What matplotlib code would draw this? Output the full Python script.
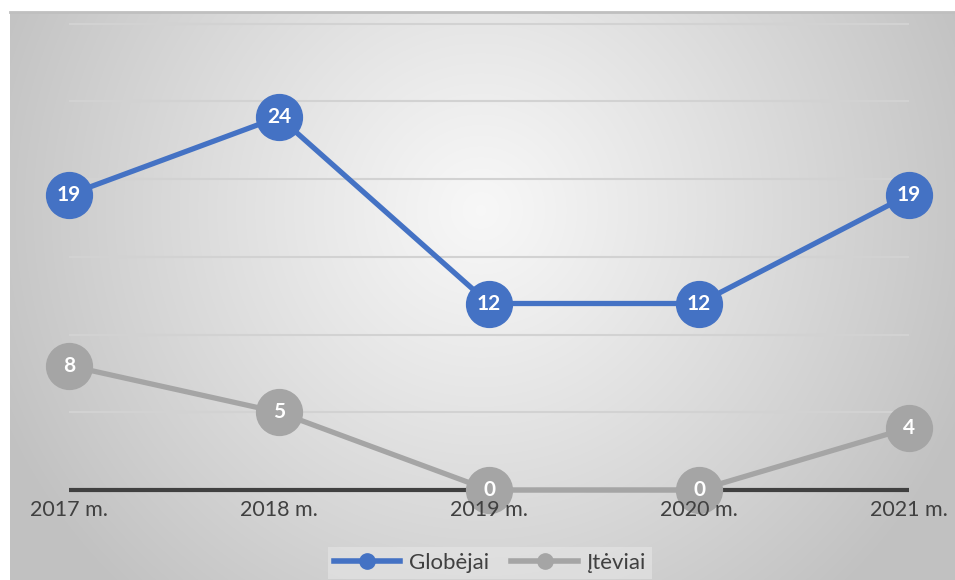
import matplotlib
matplotlib.use("Agg")
import matplotlib.pyplot as plt
import numpy as np
from matplotlib.lines import Line2D

# data
years = ["2017 m.", "2018 m.", "2019 m.", "2020 m.", "2021 m."]
globejai = [19, 24, 12, 12, 19]
teviai = [8, 5, 0, 0, 4]
series_names = ["Globėjai", "Įtėviai"]
grid_values = [5, 10, 15, 20, 25, 30]

BLUE = "#4472c4"
GRAY = "#a5a5a5"
TEXT = "#404040"

plt.rcParams["font.family"] = ["Lato", "DejaVu Sans"]

W, H = 955, 580
fig = plt.figure(figsize=(W / 100, H / 100), dpi=100)

# radial gradient background of the chart frame
x0, y0 = 10, 12
bg = fig.add_axes([x0 / W, 0, (W - x0) / W, (H - y0) / H])
yy, xx = np.mgrid[0:H - y0, 0:W - x0]
cx, cy = 480 - x0, 210 - y0
r = np.sqrt((xx - cx) ** 2 + (yy - cy) ** 2) / 520.0
r = np.clip(r, 0, 1)
shade = 0.97 - 0.21 * r ** 1.1
img = np.dstack([shade, shade, shade])
bg.imshow(img, aspect="auto", interpolation="bilinear")
bg.set_axis_off()
fig.add_artist(Line2D([x0 / W, 1], [(H - y0) / H] * 2, color="#bfbfbf", lw=2))

# main plot axes, same frame
ax = fig.add_axes([x0 / W, 0, (W - x0) / W, (H - y0) / H])
ax.patch.set_alpha(0)
px_x = 210.0
px_y = (490 - 117) / 24.0
ax.set_xlim((x0 - 69) / px_x, (W - 69) / px_x)
ax.set_ylim(-(H - 490) / px_y, (490 - y0) / px_y)
ax.set_axis_off()

xs = np.arange(len(years))
ax.hlines(grid_values, 0, len(years) - 1, color="#d2d2d2", lw=1.5, zorder=1)
ax.hlines(0, 0, len(years) - 1, color=TEXT, lw=3, zorder=2)

for vals, col in [(globejai, BLUE), (teviai, GRAY)]:
    ax.plot(xs, vals, color=col, lw=3.8, marker="o", ms=33, mec=col, mfc=col,
            zorder=3, solid_capstyle="round")
    for x, v in zip(xs, vals):
        ax.text(x, v, str(v), color="white", fontsize=15, fontweight="bold",
                ha="center", va="center", zorder=4)

for x, lab in zip(xs, years):
    ax.text(x, -1.3, lab, color=TEXT, fontsize=15.5, ha="center", va="center", zorder=5)

handles = [Line2D([0], [0], color=BLUE, lw=4, marker="o", ms=11),
           Line2D([0], [0], color=GRAY, lw=4, marker="o", ms=11)]
leg = fig.legend(handles, series_names, loc="center", bbox_to_anchor=(490 / W, 17 / H),
                 ncol=2, frameon=True, fontsize=16, handlelength=3.0, columnspacing=1.0,
                 handletextpad=0.4, borderpad=0.25, labelcolor=TEXT)
leg.get_frame().set_facecolor("#e6e6e6")
leg.get_frame().set_alpha(0.6)
leg.get_frame().set_edgecolor("none")
leg.get_frame().set_boxstyle("square", pad=0)

fig.savefig("out.png", dpi=100)
